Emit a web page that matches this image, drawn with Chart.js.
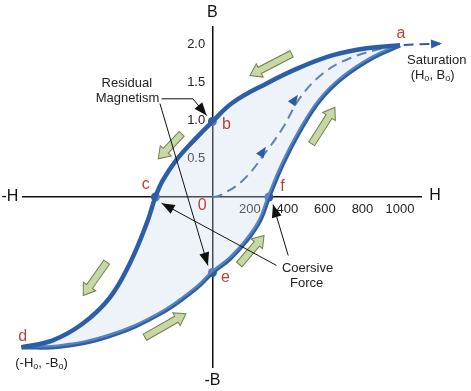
<!DOCTYPE html>
<html>
<head>
<meta charset="utf-8">
<script src="https://cdn.jsdelivr.net/npm/chart.js@4"></script>
<style>
  body { margin: 0; background: #fff; }
  #wrap { width: 471px; height: 391px; }
</style>
</head>
<body>
<div id="wrap"><canvas id="loop"></canvas></div>
<script>
// H (x) and B (y) values
const upperH = [-1018, -851, -691, -547, -440, -351, -304, -264, -191, -104, 0, 109, 289, 467, 643, 822, 1000];
const upperB = [-1.97, -1.88, -1.66, -1.32, -0.87, -0.35, 0, 0.22, 0.49, 0.73, 0.99, 1.24, 1.49, 1.70, 1.86, 1.95, 1.99];
const lowerH = [-1018, -813, -547, -280, -84, 0, 93, 182, 253, 301, 376, 467, 573, 696, 856, 1000];
const lowerB = [-1.97, -1.96, -1.82, -1.53, -1.19, -0.99, -0.81, -0.57, -0.31, 0, 0.44, 0.87, 1.27, 1.57, 1.83, 1.99];
const initH = [0, 40, 163, 291, 376, 467, 589, 733, 909, 1000, 1213, 1379];
const initB = [0, 0.02, 0.22, 0.61, 0.91, 1.30, 1.62, 1.82, 1.95, 1.99, 2.01, 2.03];
const keyH = [0, -304, 0, 301];
const keyB = [0.99, 0, -0.99, 0];
const hTicks = [200, 400, 600, 800, 1000];
const bTicks = [0.5, 1.0, 1.5, 2.0];

const BLUE = '#2c5ea8';
const RED = '#b5443a';

function pts(xs, ys) { return xs.map((x, i) => ({x: x, y: ys[i]})); }

// letters and notes, in H/B units
const letters = [
  ['a', 1005, 2.144], ['b', 75, 0.944], ['c', -355, 0.164], ['d', -1012, -1.830],
  ['e', 70, -1.052], ['f', 374, 0.138], ['0', -54, -0.111]
];
const axisNames = [['H', 1187, 0.02], ['-H', -1080, 0.007], ['B', 0, 2.416], ['-B', 0, -2.407]];
const notes = [
  ['Residual', -456, 1.492], ['Magnetism', -453, 1.296],
  ['Coersive', 507, -0.934], ['Force', 502, -1.138], ['Saturation', 1196, 1.790]
];
// pointer lines: points, last one is the arrow tip
const pointers = [
  [[-271, 1.288], [-104, 1.288], [-31, 1.069]],
  [[-280, 1.226], [-24, -0.898]],
  [[342, -0.898], [-271, -0.081]],
  [[404, -0.767], [323, -0.098]]
];
// big green arrows: tail -> tip
const flowArrows = [
  [[422, 1.878], [200, 1.594]],
  [[529, 0.698], [653, 1.178]],
  [[-164, 0.829], [-289, 0.501]],
  [[-564, -0.855], [-689, -1.292]],
  [[-360, -1.839], [-141, -1.532]],
  [[143, -0.885], [275, -0.505]]
];
// small heads on the dashed curve: from -> to
const dashHeads = [
  [[242, 0.50], [285, 0.66]],
  [[419, 1.21], [456, 1.34]],
  [[1150, 2.005], [1224, 2.012]]
];

const decor = {
  id: 'decor',
  afterDatasetsDraw(chart) {
    const ctx = chart.ctx;
    const sx = chart.scales.x, sy = chart.scales.y;
    const X = v => sx.getPixelForValue(v), Y = v => sy.getPixelForValue(v);
    ctx.save();

    // green flow arrows
    flowArrows.forEach(a => {
      const x0 = X(a[0][0]), y0 = Y(a[0][1]), x1 = X(a[1][0]), y1 = Y(a[1][1]);
      const ang = Math.atan2(y1 - y0, x1 - x0);
      const len = Math.hypot(x1 - x0, y1 - y0);
      ctx.save();
      ctx.translate(x0, y0);
      ctx.rotate(ang);
      ctx.beginPath();
      ctx.moveTo(0, -3.5);
      ctx.lineTo(len - 11, -3.5);
      ctx.lineTo(len - 11, -7.5);
      ctx.lineTo(len, 0);
      ctx.lineTo(len - 11, 7.5);
      ctx.lineTo(len - 11, 3.5);
      ctx.lineTo(0, 3.5);
      ctx.closePath();
      ctx.fillStyle = '#c7d8a6';
      ctx.fill();
      ctx.strokeStyle = '#6f7f4c';
      ctx.lineWidth = 1;
      ctx.stroke();
      ctx.restore();
    });

    // dashed curve heads
    dashHeads.forEach(a => {
      const x0 = X(a[0][0]), y0 = Y(a[0][1]), x1 = X(a[1][0]), y1 = Y(a[1][1]);
      const ang = Math.atan2(y1 - y0, x1 - x0);
      ctx.save();
      ctx.translate(x1, y1);
      ctx.rotate(ang);
      ctx.beginPath();
      ctx.moveTo(0, 0);
      ctx.lineTo(-11, -4.5);
      ctx.lineTo(-11, 4.5);
      ctx.closePath();
      ctx.fillStyle = BLUE;
      ctx.fill();
      ctx.restore();
    });

    // black pointer lines
    ctx.strokeStyle = '#111';
    ctx.fillStyle = '#111';
    ctx.lineWidth = 1;
    pointers.forEach(p => {
      ctx.beginPath();
      p.forEach((q, i) => i ? ctx.lineTo(X(q[0]), Y(q[1])) : ctx.moveTo(X(q[0]), Y(q[1])));
      ctx.stroke();
      const a = p[p.length - 2], b = p[p.length - 1];
      const ang = Math.atan2(Y(b[1]) - Y(a[1]), X(b[0]) - X(a[0]));
      ctx.save();
      ctx.translate(X(b[0]), Y(b[1]));
      ctx.rotate(ang);
      ctx.beginPath();
      ctx.moveTo(0, 0);
      ctx.lineTo(-13, -5);
      ctx.lineTo(-13, 5);
      ctx.closePath();
      ctx.fill();
      ctx.restore();
    });

    ctx.textAlign = 'center';
    ctx.textBaseline = 'middle';

    ctx.fillStyle = RED;
    ctx.font = '16px "Liberation Sans", Arial, sans-serif';
    letters.forEach(l => ctx.fillText(l[0], X(l[1]), Y(l[2])));

    ctx.fillStyle = '#111';
    ctx.font = '16px "Liberation Sans", Arial, sans-serif';
    axisNames.forEach(l => ctx.fillText(l[0], X(l[1]), Y(l[2])));

    ctx.fillStyle = '#222';
    ctx.font = '13px "Liberation Sans", Arial, sans-serif';
    notes.forEach(l => ctx.fillText(l[0], X(l[1]), Y(l[2])));

    // coordinate notes with subscript o
    function subText(parts, cx, cy) {
      const big = '13px "Liberation Sans", Arial, sans-serif';
      const small = '9px "Liberation Sans", Arial, sans-serif';
      let w = 0;
      parts.forEach(p => { ctx.font = p[1] ? small : big; w += ctx.measureText(p[0]).width; });
      let x = cx - w / 2;
      ctx.textAlign = 'left';
      parts.forEach(p => {
        ctx.font = p[1] ? small : big;
        ctx.fillText(p[0], x, cy + (p[1] ? 3 : 0));
        x += ctx.measureText(p[0]).width;
      });
      ctx.textAlign = 'center';
    }
    subText([['(H', 0], ['o', 1], [', B', 0], ['o', 1], [')', 0]], X(1174), Y(1.593));
    subText([['(-H', 0], ['o', 1], [', -B', 0], ['o', 1], [')', 0]], X(-911), Y(-2.188));

    ctx.restore();
  }
};

new Chart(document.getElementById('loop'), {
  type: 'scatter',
  data: {
    datasets: [
      {
        label: 'upper',
        data: pts(upperH, upperB),
        showLine: true,
        borderColor: BLUE,
        borderWidth: 4.5,
        pointRadius: 0,
        tension: 0.4,
        fill: '+1',
        backgroundColor: 'rgba(200,215,235,0.3)',
        clip: false
      },
      {
        label: 'lower',
        data: pts(lowerH, lowerB),
        showLine: true,
        borderColor: BLUE,
        borderWidth: 4.5,
        pointRadius: 0,
        tension: 0.4,
        fill: false,
        clip: false
      },
      {
        label: 'initial',
        data: pts(initH, initB),
        showLine: true,
        borderColor: BLUE,
        borderWidth: 2,
        borderDash: [10, 6],
        pointRadius: 0,
        tension: 0.4,
        fill: false,
        clip: false
      },
      {
        label: 'points',
        data: pts(keyH, keyB),
        showLine: false,
        pointRadius: 4.5,
        pointBackgroundColor: BLUE,
        pointBorderWidth: 0,
        clip: false
      }
    ]
  },
  options: {
    responsive: true,
    maintainAspectRatio: false,
    animation: false,
    layout: { padding: { left: 23, right: 50, top: 27, bottom: 24 } },
    plugins: { legend: { display: false }, tooltip: { enabled: false } },
    scales: {
      x: {
        type: 'linear',
        min: -1010,
        max: 1112,
        position: { y: 0 },
        afterBuildTicks: s => { s.ticks = hTicks.map(v => ({ value: v })); },
        grid: { display: false, drawTicks: false },
        border: { display: true, color: '#111', width: 1.5 },
        ticks: { padding: 5, color: '#222', font: { family: '"Liberation Sans", Arial', size: 13 },
                 callback: v => String(v) }
      },
      y: {
        type: 'linear',
        min: -2.23,
        max: 2.23,
        position: { x: 0 },
        afterBuildTicks: s => { s.ticks = bTicks.map(v => ({ value: v })); },
        grid: { display: false, drawTicks: false },
        border: { display: true, color: '#111', width: 1.5 },
        // labels sit right on the centred axis, so pad them with spaces
        ticks: { padding: 0, color: '#222', font: { family: '"Liberation Sans", Arial', size: 13 },
                 callback: v => v.toFixed(1) + '  ' }
      }
    }
  },
  plugins: [decor]
});
</script>
</body>
</html>
